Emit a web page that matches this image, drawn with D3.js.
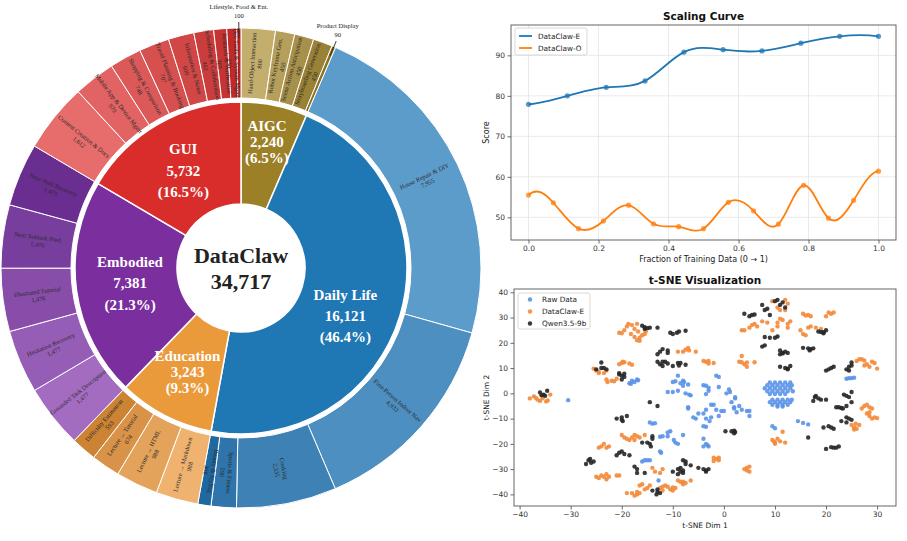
<!DOCTYPE html>
<html>
<head>
<meta charset="utf-8">
<script src="https://cdn.jsdelivr.net/npm/d3@7"></script>
<style>
  body { margin: 0; background: #fff; }
  svg { display: block; }
</style>
</head>
<body>
<svg id="chart" width="907" height="541"></svg>
<script>
// ─── Data ────────────────────────────────────────────────────────────────────

const categories     = ['AIGC', 'Daily Life', 'Education', 'Embodied', 'GUI'];
const categoryCounts = [2240, 16121, 3243, 7381, 5732];

const aigcTasks  = ['Hand-Object Interaction', 'Robot Keyframe Gen.', 'Scene Action Anticipation', 'Storyboarding Generation', 'Product Display'];
const aigcCounts = [800, 450, 450, 450, 90];

const dailyTasks  = ['House Repair & DIY', 'First-Person Indoor Nav', 'Cooking', 'Sports & Fitness', 'Beauty & Styling'];
const dailyCounts = [7955, 4933, 2335, 590, 308];

const eduTasks  = ['Lecture → Markdown', 'Lecture → HTML', 'Lecture → Tutorial', 'Difficulty Estimation'];
const eduCounts = [988, 988, 674, 593];

const embodiedTasks  = ['Grounded Task Description', 'Hesitation Recovery', 'Illustrated Tutorial', 'Next Subtask Pred.', 'Near-Stall Recovery'];
const embodiedCounts = [1477, 1477, 1476, 1476, 1475];

const guiTasks  = ['Content Creation & Docs', 'Mobile App & Device Mgmt', 'Shopping & Comparison', 'Travel Planning & Booking', 'Information & Notes', 'Scheduling & Collaboration', 'Research & Verification', 'Dev Tools & System Mgmt', 'Lifestyle, Food & Ent.'];
const guiCounts = [1612, 970, 748, 707, 600, 462, 303, 230, 100];

// scaling curve
const fracE   = [0, 0.111, 0.222, 0.333, 0.444, 0.556, 0.667, 0.778, 0.889, 1];
const scoreE  = [77.9, 80.0, 82.1, 83.7, 90.8, 91.4, 91.1, 93.0, 94.7, 94.7];
const fracO   = [0, 0.071, 0.143, 0.214, 0.286, 0.357, 0.429, 0.5, 0.571, 0.643, 0.714, 0.786, 0.857, 0.929, 1];
const scoreO  = [55.5, 53.6, 47.2, 49.1, 53.0, 48.4, 47.7, 47.2, 53.7, 51.6, 48.3, 57.9, 49.8, 54.2, 61.4];
const scaleXTicks = [0, 0.2, 0.4, 0.6, 0.8, 1.0];
const scaleYTicks = [50, 60, 70, 80, 90];

// t-SNE
const rawData = [
  [-30.5,-2.7],[-18.5,4],[-18,5],[-17.5,4.5],[-17,5.5],[-16.8,5.2],[-18.2,3.8],
  [-9,7],[-9.5,4.8],[-10,4.5],[-8.5,4],[-8,5],[-7.8,4.5],[-8,3],[-7,3.5],[-11,0.5],[-10,0.5],[-9,1],[-7.5,0],[-6.8,-0.5],[-6.5,-0.8],
  [-4,3.2],[-3.5,3],[-3,2.2],[-3,1],[-3.5,-0.3],[-1.5,7],[-1,6.5],[-1,2.5],[0.5,0],[1,1.5],[1.2,0.5],
  [-7,-5.5],[-7,-6],[-6,-9.5],[-5.5,-10],[-5,-8],[-4,-8],[-3.5,-6.5],[-2.5,-4.5],[-2,-4.5],[-1.5,-6.5],[-1,-9],[-0.5,-7],[0,-7],
  [-2.5,-9.5],[-3.5,-10],[-2.8,-11],[-4,-13],[-3.5,-13.2],[-4,-18],[-3.5,-20],[-3,-21],[-4,-21],[-3.2,-20.5],
  [1.5,-3.5],[2,-5.5],[2,-6],[2.2,-2],[2.5,-7.5],[3,-5],[3.5,-6.5],[4.5,-7],[5,-7],[5,-9],[2.2,-1.5],
  [-8,-16.5],[-9,-20],[-9.5,-19.5],[-9.8,-18.5],[-10.5,-15],[-11,-15.5],[-11,-17],[-12,-17],[-12.5,-17.2],[-12.5,-23],[-12.3,-23.5],
  [-14,-12],[-13.5,-11.8],[-14.5,-11.5],[-15,-26.5],[-15.5,-26.5],[-14.5,-26.5],[-16,-27],[-12.8,-34.5],
  [9,4.3],[10,4.3],[11,4.3],[12,4.3],[13,4.3],[8.5,3.2],[9.5,3.2],[10.5,3.2],[11.5,3.2],[12.5,3.2],[13.3,3.2],
  [8,2],[9,2],[10,2],[11,2],[12,2],[13,2],[8.5,0.8],[9.5,0.8],[10.5,0.8],[11.5,0.8],[12.5,0.8],[13.5,0.8],[9,-0.3],[10,-0.3],[11,-0.3],[12,-0.3],
  [9.5,-2.5],[10.5,-2.5],[11.5,-2.5],[12.5,-2.5],[13.3,-2.5],[9,-3.5],[10,-3.5],[11,-3.5],[12,-3.5],[13,-3.5],[9.5,-4.5],[10.5,-4.5],[11.5,-4.5],[12.5,-4.5],[10.5,-5.2],[11.5,-5.2],
  [9.5,-13],[10,-13.8],[14.5,-11],[15.5,-11.7],[16.5,-12.3],[24,5.8],[24.5,6],[25,6],[25.5,6.2]
];
const clawEData = [
  [-38,-2],[-37.2,-1.2],[-36.5,-2.5],[-36,-3],[-35.5,-2],[-34.8,-3.2],[-34.5,-2.8],[-34,-0.5],[-36.8,-1.8],
  [-20.5,24],[-20,23.8],[-19.5,25],[-19,26.5],[-18.7,27.5],[-18,27],[-17.5,25.5],[-17,27.5],[-16.8,24.5],[-16.5,22],[-16,23],[-15.5,23.5],[-17.5,22.3],[-18.2,23.5],[-17,21],[-16.5,20.8],[-15.3,24.5],
  [-9,16.5],[-8,16.5],[-7.5,17.3],[-7,18],[-6.8,17],[-5.5,16.5],
  [-4,12.8],[-3.5,12.5],[-3,12.8],[-3,11.8],[-2,12],
  [-25.5,9.8],[-25,9],[-24.5,8.5],[-24.5,8],[-23.5,8],[-23,9],[-22.8,4.5],[-23,5.5],[-22,5],[-21.5,4.8],[-21,5.8],[-20,12],[-19.8,12.5],[-19.5,12.3],[-18.5,11.8],[-18,11.3],[-20.5,11.5],
  [9.5,-18.5],[10,-19.5],[10.5,-18],[11,-19],[11.5,-15.2],[12,-19.5],[10,-20],[9.8,-19],
  [9.5,36.5],[10.5,34],[11,33],[12,37],[12.5,35.5],[12,33],[11,29.5],[11.5,29],[10.5,28],[12.5,27.5],[13,28.5],[12.5,26],[9.5,25],[10.5,26.5],[8.5,28],[7.5,28.5],[6,27.5],[5.5,27],[5,26],[4,25],[3.5,25],[6.5,26.5],
  [15.5,31.5],[16,30.8],[16.5,31],[17,30.5],[15,25],[15.5,23.5],[16,23],[16.5,26],[17,26.5],[18,26],[19,25.5],[20,30.5],[20.5,32],[21,31.5],[21.5,32],
  [3.5,14.8],[3,12.5],[3.5,12.3],[4,11.5],[4.5,12.2],[4.5,10.5],[6,12.3],
  [26,12.8],[27,13.5],[27.5,13],[28,11.5],[28.5,10.5],[29,12.5],[29.5,12],[30,9.8],[27.5,11],[26.5,13.5],
  [27,-6],[27.5,-5],[28,-4.5],[28.5,-5.5],[29,-6],[28,-8],[28.5,-9],[29,-10],[29.5,-9.5],[30,-9.8],[28.5,-7.5],
  [25,-12.5],[25.5,-13.5],[26,-14],[25.8,-12],[26.5,-12.5],[25.5,-14.3],
  [-2,-25.5],[-1.5,-26],[-1,-26.5],[-1,-25.5],[-2,-26.8],
  [4,-30],[4.5,-30.5],[5,-29],[5,-31],[4.5,-29.5],
  [-9,-34.5],[-8.5,-35],[-8,-35],[-7.5,-35.5],[-6.5,-34.5],[-8,-36],
  [-11,-37],[-10.5,-38],[-10,-38.5],[-9.5,-37.5],[-10,-37.3],
  [-14,-29.5],[-13.5,-31],[-12.5,-31.5],[-12,-30],[-12,-37],[-12,-38.5],[-12.5,-37.5],[-11.5,-36.5],
  [-18,-39.5],[-17.5,-40.5],[-17,-40],[-16.5,-39.5],[-17,-39],[-16.5,-36.5],[-16,-36],[-15,-37.5],[-14.5,-36.5],[-15.5,-38],[-19,-39.5],
  [-25,-33],[-24.5,-33.5],[-23.5,-33],[-23,-34],[-23,-32],[-22.5,-33],[-24,-32.5],[-21,-32.5],[-20.5,-32.5],
  [-24.5,-21.5],[-24,-21],[-23.5,-20],[-23,-21.5],[-22.5,-21],
  [-20,-16.5],[-19.5,-17.5],[-19,-18],[-18.5,-18.5],[-18,-17.5],[-17.5,-18.5],[-17,-17],[-16.5,-17.5],[-17.5,-16.5],[-15.5,-16.5]
];
const qwenData = [
  [-36,0.3],[-35.3,-0.5],[-34.6,1],[-35,-1],[-35.7,-0.8],
  [-16,26.8],[-15.5,26.2],[-15,25.8],[-14.5,26],[-13,26],[-15.5,25.5],
  [-10.5,24],[-10,23.5],[-9.2,24],[-8.8,24.5],[-7.5,24.8],
  [-13,15.5],[-12.5,16.5],[-12,17.5],[-11,16],[-11,17],[-13,12.5],[-12.5,11.5],[-12,12.5],[-11.5,12.5],[-11,11.8],[-10,10.8],[-9,12],[-8.5,12],[-8.8,11],[-7.5,11.3],[-12,10.8],
  [-24,12.2],[-24,10],[-23.5,10],[-23,9.5],[-25,9.5],[-20.5,7.5],[-20,7],[-19.5,7.8],[-19.5,6.5],[-20.5,8],[-20,5.5],
  [16.5,-17.5],
  [7.5,35],[8,33],[8.5,33.5],[10,36.5],[10.5,37],[11,35],[11.5,36],[12,34],[9,31],[4,31.5],[5,30.5],[5.5,31],[6,31.2],
  [18.5,24.5],[19,24.3],[19.5,24.2],[20,25],[19.5,23.8],
  [7.5,18.5],[8,19],[8,22.3],[9,22],[10,22],[10.5,22.5],
  [11,17],[11,15.5],[11.5,16],[12,16.5],[11.5,15.8],[12.5,16],
  [15.5,18],[16.5,17.8],[17,17.5],[17.5,17.8],[16.8,17],
  [11,10.5],[12,10],[12.5,9.5],[13,10.8],[12.5,9.8],
  [20,9],[20.5,9.5],[21,10],[21.5,10.5],[24,9.5],[24.5,10.5],[25,11],[25,12.2],[24.5,9],
  [17.5,-3],[18,-1],[18.5,-2],[19,-2.5],[20,-2.5],[17.8,-1.5],
  [22,-5.5],[22.5,-5.5],[23,-5.8],[23.3,-6],[23.5,-0.5],[24,-1],[24.5,-1.5],[25,0.5],[24,-5],[25,-3.5],
  [23,-11],[24,-9.5],[24.5,-10],[25,-10.5],[24,-11.5],
  [19.5,-13.5],[20.5,-13],[21,-13.5],[21.5,-14],
  [20,-22],[21,-21.3],[21.5,-21.5],[22,-21.5],[22.5,-21],
  [0.3,-15],[1.5,-15],[2,-14.8],[2,-15.8],[2.2,-15.3],
  [-5,-29.5],[-4,-30],[-3.5,-30.5],[-3,-30],[-3.5,-31],
  [-10,-31],[-9,-30],[-8.5,-31],[-8,-30.5],[-8,-26.5],[-7.5,-27],[-7.5,-28],[-6.5,-28.5],[-8.5,-29.5],[-9,-32],[-8,-31.5],
  [-14,-38.5],[-13,-39],[-12.5,-39.5],[-13,-38],[-13.2,-40],
  [-17.5,-29],[-17,-30],[-17,-31.5],[-15.5,-31.5],
  [-27,-28],[-26.5,-26.5],[-26,-27.5],[-25.5,-27],[-26.2,-26],
  [-21,-24.5],[-20.5,-23.5],[-20,-23],[-19.5,-24],[-18.5,-24.5],
  [-16,-19.5],[-15,-19.5],[-14.5,-20],[-14,-18],[-14.3,-21],[-14,-17],
  [-21,-10],[-20,-10.5],[-20,-9.5],[-19.8,-11],[-19,-9],
  [-14.5,-3.5],[-13,-5]
];
const tsneXTicks = [-40, -30, -20, -10, 0, 10, 20, 30];
const tsneYTicks = [-40, -30, -20, -10, 0, 10, 20, 30, 40];

// ─── Styles ──────────────────────────────────────────────────────────────────

const SERIF = '"Liberation Serif", "Times New Roman", serif';
const SANS  = '"DejaVu Sans", sans-serif';

const categoryColors = ['#9b8027', '#1f77b4', '#eb9a3b', '#7b2e9e', '#d92d2b'];
// light → dark ramps for each category's tasks (clockwise order)
const childRamps = [
  ['#c3ae6d', '#8b7224'],
  ['#5c9cca', '#2068a0'],
  ['#efb36f', '#cc8334'],
  ['#a36cc1', '#6a2e91'],
  ['#e66d6c', '#bb2020']
];
const innerLabelStyle = [
  { r: 129, da: 0, lh: 16 },
  { r: 115, da: 8, lh: 21 },
  { r: 117, da: 0, lh: 16 },
  { r: 112, da: 0, lh: 21.5 },
  { r: 113, da: -1, lh: 21.5 }
];

const svg = d3.select('#chart');
const fmt = d3.format(',');

// ─── Sunburst ────────────────────────────────────────────────────────────────

const cx = 241, cy = 268;
const R0 = 64, R1 = 166, R2 = 170, R3 = 240;

const taskGroups = [
  [aigcTasks, aigcCounts], [dailyTasks, dailyCounts], [eduTasks, eduCounts],
  [embodiedTasks, embodiedCounts], [guiTasks, guiCounts]
];
const total = d3.sum(categoryCounts);

const pie = d3.pie().sort(null).value(d => d.value);
const innerArcs = pie(categories.map((c, i) => ({ name: c, value: categoryCounts[i], i })));
const childItems = taskGroups.flatMap(([names, counts], gi) =>
  names.map((n, j) => ({
    name: n, value: counts[j], gi,
    color: d3.interpolateRgb(childRamps[gi][0], childRamps[gi][1])(names.length > 1 ? j / (names.length - 1) : 0)
  })));
const outerArcs = pie(childItems);

const gSun = svg.append('g').attr('transform', `translate(${cx},${cy})`);

const innerArc = d3.arc().innerRadius(R0).outerRadius(R1);
const outerArc = d3.arc().innerRadius(R2).outerRadius(R3);

gSun.selectAll('.inner')
  .data(innerArcs)
  .join('path')
  .attr('class', 'inner')
  .attr('d', innerArc)
  .attr('fill', d => categoryColors[d.data.i])
  .attr('stroke', '#fff')
  .attr('stroke-width', 1.5);

gSun.selectAll('.outer')
  .data(outerArcs)
  .join('path')
  .attr('class', 'outer')
  .attr('d', outerArc)
  .attr('fill', d => d.data.color)
  .attr('stroke', '#fff')
  .attr('stroke-width', 1);

// outer ring labels: radial text, flipped so it is never upside down
function radialRot(a) {
  let deg = a * 180 / Math.PI - 90;
  if (deg > 100) deg -= 180;
  return deg;
}
const polar = (a, r) => [r * Math.sin(a), -r * Math.cos(a)];

const bigSlices = outerArcs.filter(d => d.data.value >= 150);
const tinySlices = outerArcs.filter(d => d.data.value < 150);

const oLab = gSun.selectAll('.olab')
  .data(bigSlices)
  .join('g')
  .attr('class', 'olab')
  .attr('transform', d => {
    const a = (d.startAngle + d.endAngle) / 2;
    const [x, y] = polar(a, (R2 + R3) / 2);
    return `translate(${x},${y}) rotate(${radialRot(a)})`;
  })
  .style('font-family', SERIF)
  .style('font-size', '6.3px')
  .attr('fill', '#2a2a2a')
  .attr('text-anchor', 'middle');
oLab.append('text').attr('y', -1.5).text(d => d.data.name);
oLab.append('text').attr('y', 6).text(d => fmt(d.data.value));

// tiny slices get a leader line and an outside label
const tLab = gSun.selectAll('.tlab')
  .data(tinySlices)
  .join('g')
  .attr('class', 'tlab')
  .style('font-family', SERIF)
  .style('font-size', '6.5px')
  .attr('fill', '#222')
  .attr('text-anchor', 'middle');
tLab.append('line')
  .attr('x1', d => polar((d.startAngle + d.endAngle) / 2, R3 - 10)[0])
  .attr('y1', d => polar((d.startAngle + d.endAngle) / 2, R3 - 10)[1])
  .attr('x2', d => polar((d.startAngle + d.endAngle) / 2, R3 + 6)[0])
  .attr('y2', d => polar((d.startAngle + d.endAngle) / 2, R3 + 6)[1])
  .attr('stroke', '#222').attr('stroke-width', 0.9);
tLab.append('text')
  .attr('x', d => polar((d.startAngle + d.endAngle) / 2, R3 + 10)[0])
  .attr('y', d => polar((d.startAngle + d.endAngle) / 2, R3 + 10)[1] - 9)
  .text(d => d.data.name);
tLab.append('text')
  .attr('x', d => polar((d.startAngle + d.endAngle) / 2, R3 + 10)[0])
  .attr('y', d => polar((d.startAngle + d.endAngle) / 2, R3 + 10)[1])
  .text(d => fmt(d.data.value));

// inner ring labels
const iLab = gSun.selectAll('.ilab')
  .data(innerArcs)
  .join('g')
  .attr('class', 'ilab')
  .attr('transform', d => {
    const st = innerLabelStyle[d.data.i];
    const a = (d.startAngle + d.endAngle) / 2 + st.da * Math.PI / 180;
    const [x, y] = polar(a, st.r);
    return `translate(${x},${y})`;
  })
  .style('font-family', SERIF)
  .style('font-weight', 'bold')
  .style('font-size', '15px')
  .attr('fill', '#fff')
  .attr('text-anchor', 'middle')
  .attr('dominant-baseline', 'central');
iLab.each(function (d) {
  const st = innerLabelStyle[d.data.i];
  const lines = [d.data.name, fmt(d.data.value), `(${(d.data.value / total * 100).toFixed(1)}%)`];
  d3.select(this).selectAll('text')
    .data(lines)
    .join('text')
    .attr('y', (t, k) => (k - 1) * st.lh)
    .text(t => t);
});

// center
gSun.append('circle').attr('r', R0 - 1).attr('fill', '#fff');
gSun.append('text')
  .attr('y', -13).attr('text-anchor', 'middle').attr('dominant-baseline', 'central')
  .style('font-family', SERIF).style('font-weight', 'bold').style('font-size', '22px')
  .attr('fill', '#222').text('DataClaw');
gSun.append('text')
  .attr('y', 13).attr('text-anchor', 'middle').attr('dominant-baseline', 'central')
  .style('font-family', SERIF).style('font-weight', 'bold').style('font-size', '22px')
  .attr('fill', '#222').text(fmt(total));

// ─── Shared axis styling ─────────────────────────────────────────────────────

function styleAxis(sel) {
  sel.selectAll('text')
    .attr('fill', '#333')
    .style('font-family', SANS)
    .style('font-size', '7.5px');
  sel.selectAll('line').attr('stroke', '#444').attr('stroke-width', 0.8);
  sel.select('.domain').remove();
}

function frame(g, x0, y0, x1, y1) {
  g.append('rect')
    .attr('x', x0).attr('y', y0).attr('width', x1 - x0).attr('height', y1 - y0)
    .attr('fill', 'none').attr('stroke', '#555').attr('stroke-width', 0.9);
}

// Not-a-knot cubic spline through the points (same as scipy's default),
// emitted as bezier segments in pixel space via the given scales.
function splinePath(xs, ys, sx, sy) {
  const n = xs.length;
  const h = d3.range(n - 1).map(i => xs[i + 1] - xs[i]);
  const A = d3.range(n).map(() => new Array(n).fill(0));
  const b = new Array(n).fill(0);
  A[0][0] = h[1]; A[0][1] = -(h[0] + h[1]); A[0][2] = h[0];
  for (let i = 1; i < n - 1; i++) {
    A[i][i - 1] = h[i - 1];
    A[i][i] = 2 * (h[i - 1] + h[i]);
    A[i][i + 1] = h[i];
    b[i] = 6 * ((ys[i + 1] - ys[i]) / h[i] - (ys[i] - ys[i - 1]) / h[i - 1]);
  }
  A[n - 1][n - 3] = h[n - 2]; A[n - 1][n - 2] = -(h[n - 3] + h[n - 2]); A[n - 1][n - 1] = h[n - 3];
  // gaussian elimination with partial pivoting
  for (let c = 0; c < n; c++) {
    let p = c;
    for (let r = c + 1; r < n; r++) if (Math.abs(A[r][c]) > Math.abs(A[p][c])) p = r;
    [A[c], A[p]] = [A[p], A[c]]; [b[c], b[p]] = [b[p], b[c]];
    for (let r = c + 1; r < n; r++) {
      const f = A[r][c] / A[c][c];
      for (let k = c; k < n; k++) A[r][k] -= f * A[c][k];
      b[r] -= f * b[c];
    }
  }
  const M = new Array(n).fill(0);
  for (let r = n - 1; r >= 0; r--) {
    let s = b[r];
    for (let k = r + 1; k < n; k++) s -= A[r][k] * M[k];
    M[r] = s / A[r][r];
  }
  const p = d3.path();
  p.moveTo(sx(xs[0]), sy(ys[0]));
  for (let i = 0; i < n - 1; i++) {
    const hi = h[i], sl = (ys[i + 1] - ys[i]) / hi;
    const d0 = sl - hi * (2 * M[i] + M[i + 1]) / 6;
    const d1 = sl + hi * (M[i] + 2 * M[i + 1]) / 6;
    p.bezierCurveTo(
      sx(xs[i] + hi / 3), sy(ys[i] + d0 * hi / 3),
      sx(xs[i + 1] - hi / 3), sy(ys[i + 1] - d1 * hi / 3),
      sx(xs[i + 1]), sy(ys[i + 1]));
  }
  return p.toString();
}

// ─── Scaling curve ───────────────────────────────────────────────────────────

const sc = { x0: 511, x1: 896, y0: 25, y1: 240 };
const gS = svg.append('g');
const xS = d3.scaleLinear().domain([-0.05, 1.05]).range([sc.x0, sc.x1]);
const yS = d3.scaleLinear().domain([44.4, 97.5]).range([sc.y1, sc.y0]);

gS.append('g')
  .selectAll('line.gx')
  .data(scaleXTicks)
  .join('line')
  .attr('x1', d => xS(d)).attr('x2', d => xS(d))
  .attr('y1', sc.y0).attr('y2', sc.y1)
  .attr('stroke', '#e4e4e4').attr('stroke-width', 0.8);
gS.append('g')
  .selectAll('line.gy')
  .data(scaleYTicks)
  .join('line')
  .attr('y1', d => yS(d)).attr('y2', d => yS(d))
  .attr('x1', sc.x0).attr('x2', sc.x1)
  .attr('stroke', '#e4e4e4').attr('stroke-width', 0.8);

gS.append('g')
  .attr('transform', `translate(0,${sc.y1})`)
  .call(d3.axisBottom(xS).tickValues(scaleXTicks).tickSize(3.5).tickPadding(2).tickFormat(d3.format('.1f')))
  .call(styleAxis);
gS.append('g')
  .attr('transform', `translate(${sc.x0},0)`)
  .call(d3.axisLeft(yS).tickValues(scaleYTicks).tickSize(3.5).tickPadding(2.5).tickFormat(d3.format('d')))
  .call(styleAxis);

const seriesS = [
  { name: 'DataClaw-E', color: '#1f77b4', xs: fracE, ys: scoreE },
  { name: 'DataClaw-O', color: '#ff7f0e', xs: fracO, ys: scoreO }
];
seriesS.forEach(s => {
  const pts = s.xs.map((x, i) => [x, s.ys[i]]);
  gS.append('path')
    .attr('d', splinePath(s.xs, s.ys, xS, yS))
    .attr('fill', 'none').attr('stroke', s.color).attr('stroke-width', 1.8);
  gS.append('g')
    .selectAll('circle')
    .data(pts)
    .join('circle')
    .attr('cx', d => xS(d[0])).attr('cy', d => yS(d[1]))
    .attr('r', 2.6)
    .attr('fill', s.color).attr('fill-opacity', 0.75);
});
frame(gS, sc.x0, sc.y0, sc.x1, sc.y1);

gS.append('text')
  .attr('x', (sc.x0 + sc.x1) / 2).attr('y', 20)
  .attr('text-anchor', 'middle')
  .style('font-family', SANS).style('font-weight', 'bold').style('font-size', '10.5px')
  .attr('fill', '#111').text('Scaling Curve');
gS.append('text')
  .attr('x', (sc.x0 + sc.x1) / 2).attr('y', 262)
  .attr('text-anchor', 'middle')
  .style('font-family', SANS).style('font-size', '8px')
  .attr('fill', '#222').text('Fraction of Training Data (0 → 1)');
gS.append('text')
  .attr('transform', `translate(489,${(sc.y0 + sc.y1) / 2}) rotate(-90)`)
  .attr('text-anchor', 'middle')
  .style('font-family', SANS).style('font-size', '8px')
  .attr('fill', '#222').text('Score');

const legS = gS.append('g').attr('transform', 'translate(515,28)');
legS.append('rect').attr('width', 72).attr('height', 27).attr('rx', 2)
  .attr('fill', '#fff').attr('fill-opacity', 0.85).attr('stroke', '#cfcfcf').attr('stroke-width', 0.8);
seriesS.forEach((s, i) => {
  legS.append('line').attr('x1', 4).attr('x2', 17).attr('y1', 8 + i * 12).attr('y2', 8 + i * 12)
    .attr('stroke', s.color).attr('stroke-width', 1.8);
  legS.append('text').attr('x', 23).attr('y', 8 + i * 12).attr('dominant-baseline', 'central')
    .style('font-family', SANS).style('font-size', '7.3px').attr('fill', '#222').text(s.name);
});

// ─── t-SNE ───────────────────────────────────────────────────────────────────

const ts = { x0: 514, x1: 896, y0: 289, y1: 506 };
const gT = svg.append('g');
const xT = d3.scaleLinear().domain([-41.1, 33.7]).range([ts.x0, ts.x1]);
const yT = d3.scaleLinear().domain([-44.6, 41.3]).range([ts.y1, ts.y0]);

gT.append('g')
  .attr('transform', `translate(0,${ts.y1})`)
  .call(d3.axisBottom(xT).tickValues(tsneXTicks).tickSize(3.5).tickPadding(2).tickFormat(d3.format('d')))
  .call(styleAxis);
gT.append('g')
  .attr('transform', `translate(${ts.x0},0)`)
  .call(d3.axisLeft(yT).tickValues(tsneYTicks).tickSize(3.5).tickPadding(2.5).tickFormat(d3.format('d')))
  .call(styleAxis);

const seriesT = [
  { name: 'Raw Data',    color: '#5a92e8', pts: rawData },
  { name: 'DataClaw-E',  color: '#f38a3a', pts: clawEData },
  { name: 'Qwen3.5-9b',  color: '#262626', pts: qwenData }
];
seriesT.forEach(s => {
  gT.append('g')
    .selectAll('circle')
    .data(s.pts)
    .join('circle')
    .attr('cx', d => xT(d[0])).attr('cy', d => yT(d[1]))
    .attr('r', 2.2)
    .attr('fill', s.color).attr('fill-opacity', 0.9);
});
frame(gT, ts.x0, ts.y0, ts.x1, ts.y1);

gT.append('text')
  .attr('x', (ts.x0 + ts.x1) / 2).attr('y', 284)
  .attr('text-anchor', 'middle')
  .style('font-family', SANS).style('font-weight', 'bold').style('font-size', '10.5px')
  .attr('fill', '#111').text('t-SNE Visualization');
gT.append('text')
  .attr('x', (ts.x0 + ts.x1) / 2).attr('y', 528)
  .attr('text-anchor', 'middle')
  .style('font-family', SANS).style('font-size', '7.5px')
  .attr('fill', '#222').text('t-SNE Dim 1');
gT.append('text')
  .attr('transform', `translate(489,${(ts.y0 + ts.y1) / 2}) rotate(-90)`)
  .attr('text-anchor', 'middle')
  .style('font-family', SANS).style('font-size', '7.5px')
  .attr('fill', '#222').text('t-SNE Dim 2');

const legT = gT.append('g').attr('transform', 'translate(518,293)');
legT.append('rect').attr('width', 72).attr('height', 36).attr('rx', 2)
  .attr('fill', '#fff').attr('fill-opacity', 0.85).attr('stroke', '#cfcfcf').attr('stroke-width', 0.8);
seriesT.forEach((s, i) => {
  legT.append('circle').attr('cx', 12).attr('cy', 6.5 + i * 12).attr('r', 2.2)
    .attr('fill', s.color).attr('fill-opacity', 0.9);
  legT.append('text').attr('x', 24).attr('y', 6.5 + i * 12).attr('dominant-baseline', 'central')
    .style('font-family', SANS).style('font-size', '7.3px').attr('fill', '#222').text(s.name);
});
</script>
</body>
</html>
